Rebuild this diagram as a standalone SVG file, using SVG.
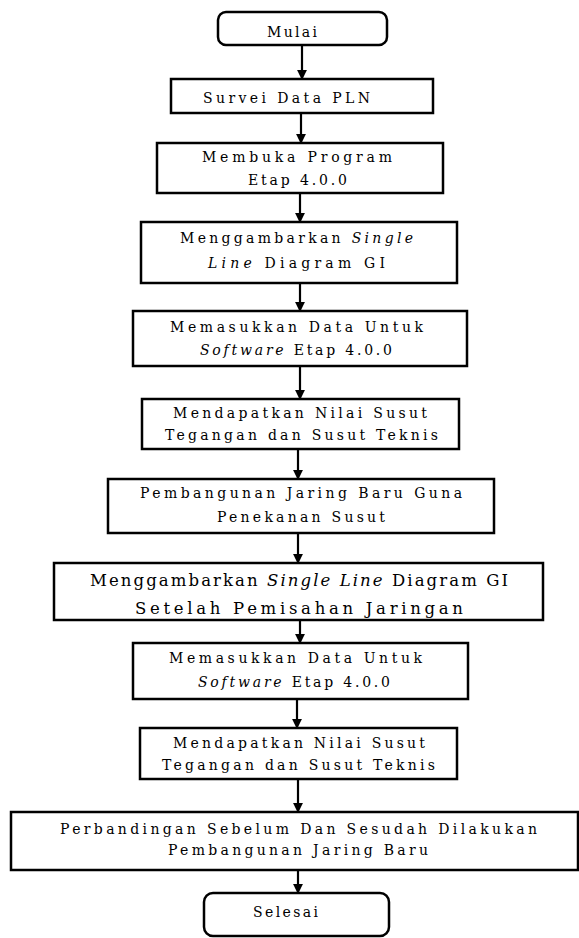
<svg xmlns="http://www.w3.org/2000/svg" width="579" height="938" viewBox="0 0 579 938">
<defs>
<marker id="ah" viewBox="0 0 10 10" refX="9" refY="5" markerWidth="4.5" markerHeight="4.5" orient="auto" markerUnits="strokeWidth">
<path d="M0,0 L10,5 L0,10 z" fill="#000"/>
</marker>
<style>
.box{fill:#fff;stroke:#000;stroke-width:2.5}
.t{font-family:"DejaVu Serif","Liberation Serif",serif;font-size:14px;fill:#000;text-anchor:middle}
.big{font-size:16.5px}
.i{font-style:italic}
.c{stroke:#000;stroke-width:2.2;fill:none;marker-end:url(#ah)}
</style>
</defs>
<rect width="579" height="938" fill="#fff"/>
<g id="connectors">
<line class="c" x1="302" y1="45" x2="302" y2="79"/>
<line class="c" x1="301" y1="113" x2="301" y2="143"/>
<line class="c" x1="300" y1="193" x2="300" y2="222"/>
<line class="c" x1="300" y1="283" x2="300" y2="311"/>
<line class="c" x1="300" y1="366" x2="300" y2="399"/>
<line class="c" x1="298" y1="449" x2="298" y2="479"/>
<line class="c" x1="298" y1="533" x2="298" y2="563"/>
<line class="c" x1="300" y1="620" x2="300" y2="643"/>
<line class="c" x1="297" y1="699" x2="297" y2="728"/>
<line class="c" x1="298" y1="779" x2="298" y2="812"/>
<line class="c" x1="298" y1="870" x2="298" y2="893"/>
</g>
<g id="mulai">
<rect class="box" x="218" y="12" width="169" height="33" rx="8"/>
<text class="t" x="292" y="37" textLength="50" lengthAdjust="spacing">Mulai</text>
</g>
<g id="survei">
<rect class="box" x="171" y="79" width="262" height="34"/>
<text class="t" x="286.5" y="103" textLength="167" lengthAdjust="spacing">Survei Data PLN</text>
</g>
<g id="membuka">
<rect class="box" x="157" y="143" width="286" height="50"/>
<text class="t" x="297" y="162" textLength="190" lengthAdjust="spacing">Membuka Program</text>
<text class="t" x="297.5" y="185" textLength="99" lengthAdjust="spacing">Etap 4.0.0</text>
</g>
<g id="single1">
<rect class="box" x="141" y="222" width="316" height="61"/>
<text class="t" x="296.5" y="243" textLength="233" lengthAdjust="spacing">Menggambarkan <tspan class="i">Single</tspan></text>
<text class="t" x="296.5" y="268" textLength="177" lengthAdjust="spacing"><tspan class="i">Line</tspan> Diagram GI</text>
</g>
<g id="memasukkan1">
<rect class="box" x="133" y="311" width="334" height="55"/>
<text class="t" x="296.5" y="332" textLength="253" lengthAdjust="spacing">Memasukkan Data Untuk</text>
<text class="t" x="296" y="355" textLength="192" lengthAdjust="spacing"><tspan class="i">Software</tspan> Etap 4.0.0</text>
</g>
<g id="mendapatkan1">
<rect class="box" x="142" y="399" width="317" height="50"/>
<text class="t" x="300" y="418" textLength="254" lengthAdjust="spacing">Mendapatkan Nilai Susut</text>
<text class="t" x="301.5" y="440" textLength="273" lengthAdjust="spacing">Tegangan dan Susut Teknis</text>
</g>
<g id="pembangunan">
<rect class="box" x="108" y="479" width="386" height="54"/>
<text class="t" x="301" y="498" textLength="322" lengthAdjust="spacing">Pembangunan Jaring Baru Guna</text>
<text class="t" x="301" y="522" textLength="168" lengthAdjust="spacing">Penekanan Susut</text>
</g>
<g id="single2">
<rect class="box" x="54" y="563" width="489" height="57"/>
<text class="t big" x="299" y="586" textLength="418" lengthAdjust="spacing">Menggambarkan <tspan class="i">Single Line</tspan> Diagram GI</text>
<text class="t big" x="299" y="614" textLength="328" lengthAdjust="spacing">Setelah Pemisahan Jaringan</text>
</g>
<g id="memasukkan2">
<rect class="box" x="133" y="643" width="335" height="56"/>
<text class="t" x="295.5" y="663" textLength="253" lengthAdjust="spacing">Memasukkan Data Untuk</text>
<text class="t" x="294" y="687" textLength="192" lengthAdjust="spacing"><tspan class="i">Software</tspan> Etap 4.0.0</text>
</g>
<g id="mendapatkan2">
<rect class="box" x="140" y="728" width="317" height="51"/>
<text class="t" x="299" y="748" textLength="252" lengthAdjust="spacing">Mendapatkan Nilai Susut</text>
<text class="t" x="298.5" y="770" textLength="273" lengthAdjust="spacing">Tegangan dan Susut Teknis</text>
</g>
<g id="perbandingan">
<rect class="box" x="11" y="812" width="567" height="58"/>
<text class="t" x="298.5" y="834" textLength="477" lengthAdjust="spacing">Perbandingan Sebelum Dan Sesudah Dilakukan</text>
<text class="t" x="298" y="855" textLength="260" lengthAdjust="spacing">Pembangunan Jaring Baru</text>
</g>
<g id="selesai">
<rect class="box" x="204" y="893" width="185" height="43" rx="9"/>
<text class="t" x="285.5" y="917" textLength="65" lengthAdjust="spacing">Selesai</text>
</g>
</svg>
